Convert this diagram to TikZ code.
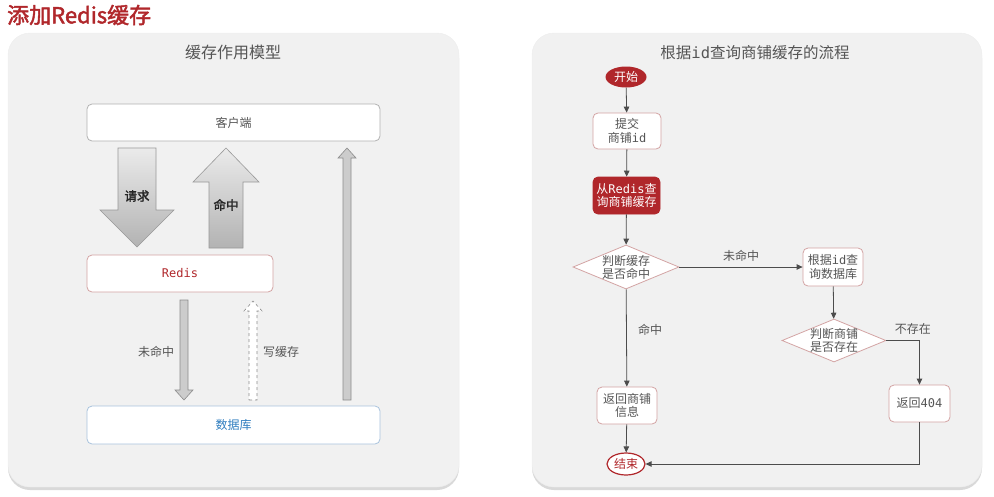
\documentclass[tikz,border=0pt]{standalone}
\usepackage{fontspec}
\setmainfont{Noto Sans CJK SC}
\setmonofont{DejaVu Sans Mono}
\newfontfamily\boldcjk{Noto Sans CJK SC}[FakeBold=2]
\usetikzlibrary{shapes.geometric,shadows,arrows.meta}

\definecolor{darkred}{HTML}{B0272B}
\definecolor{redline}{HTML}{D3A4A4}
\definecolor{blueline}{HTML}{A9C3DD}
\definecolor{bluetext}{HTML}{2F7DBF}
\definecolor{txtgray}{HTML}{555555}
\definecolor{panelgray}{HTML}{F1F1F1}

\tikzset{
  panel/.style={draw=black!7,fill=panelgray,rounded corners=22pt,
    drop shadow={shadow xshift=0pt,shadow yshift=-3pt,opacity=.3}},
  boxnode/.style={draw,line width=.8pt,fill=white,rounded corners=5pt,inner sep=0pt,
    text=txtgray,align=center,font=\fontsize{12}{13.5}\selectfont},
  bigarrow/.style={draw=black!40,line width=.6pt,top color=black!8,bottom color=black!30},
  thinarrow/.style={draw=black!45,line width=.6pt,fill=black!20},
  decision/.style={diamond,draw=redline,fill=white,line width=.8pt,inner sep=-4pt,aspect=2.4,
    text=txtgray,align=center,font=\fontsize{12}{13}\selectfont},
  terminal/.style={ellipse,inner sep=0pt,font=\fontsize{12}{13.5}\selectfont},
  flow/.style={draw=black!70,line width=.8pt,-{Triangle[length=6pt,width=5.5pt]}},
  lbl/.style={text=txtgray,font=\fontsize{12}{13.5}\selectfont}
}

\begin{document}
\begin{tikzpicture}[x=1pt,y=-1pt]
  \useasboundingbox (0,0) rectangle (994,496);

  % titles
  \node[anchor=west,inner sep=0pt,text=darkred,font=\fontsize{22}{24}\boldcjk] (maintitle) at (7,15) {添加Redis缓存};

  % left panel: cache model
  \path[panel] (8,33) rectangle (459,487);
  \node[text=txtgray,font=\fontsize{16}{18}\selectfont] (lefttitle) at (233,52) {缓存作用模型};

  \node[boxnode,draw=black!30,minimum width=293pt,minimum height=37pt] (client) at (233.5,122.5) {客户端};
  \node[boxnode,draw=redline,text=darkred,minimum width=186pt,minimum height=37pt] (redis) at (180,273.5) {\texttt{Redis}};
  \node[boxnode,draw=blueline,text=bluetext,minimum width=293pt,minimum height=38pt] (db) at (233.5,425) {数据库};

  \draw[bigarrow] (118,148) -- (156,148) -- (156,210) -- (174,210) -- (137,247) -- (100,210) -- (118,210) -- cycle;
  \node[text=black!85,font=\fontsize{12.5}{14}\boldcjk] (req) at (137,196) {请求};
  \draw[bigarrow] (209,248) -- (243,248) -- (243,182) -- (259,182) -- (226,148) -- (193,182) -- (209,182) -- cycle;
  \node[text=black!85,font=\fontsize{12.5}{14}\boldcjk] (hitlbl) at (226,205) {命中};

  \draw[thinarrow] (180,300) -- (188,300) -- (188,390) -- (193,390) -- (184,400) -- (175,390) -- (180,390) -- cycle;
  \node[lbl] (misslbl) at (156,352) {未命中};
  \draw[draw=black!45,line width=.6pt,dashed,fill=white] (249,400) -- (257,400) -- (257,311) -- (262,311) -- (253,301) -- (244,311) -- (249,311) -- cycle;
  \node[lbl] (writelbl) at (281,352) {写缓存};
  \draw[thinarrow] (343,400) -- (351,400) -- (351,158) -- (356,158) -- (347,148) -- (338,158) -- (343,158) -- cycle;

  % right panel: query flow
  \path[panel] (532,33) rectangle (982,487);
  \node[text=txtgray,font=\fontsize{15.5}{18}\selectfont] (righttitle) at (755,53) {根据\texttt{id}查询商铺缓存的流程};

  \node[terminal,fill=darkred,text=white,minimum width=41pt,minimum height=21pt] (start) at (626,77) {开始};
  \node[boxnode,draw=redline,minimum width=68pt,minimum height=36pt] (submit) at (627,131) {提交\\商铺\texttt{id}};
  \node[boxnode,draw=darkred,fill=darkred,text=white,minimum width=67pt,minimum height=37pt] (query) at (626.5,195.5) {从\texttt{Redis}查\\询商铺缓存};
  \node[decision,minimum width=106pt,minimum height=44pt] (hit) at (626,267) {判断缓存\\是否命中};
  \node[boxnode,draw=redline,minimum width=60pt,minimum height=38pt] (dbquery) at (833,267) {根据\texttt{id}查\\询数据库};
  \node[decision,minimum width=104pt,minimum height=43pt] (exist) at (834,340.5) {判断商铺\\是否存在};
  \node[boxnode,draw=redline,minimum width=60pt,minimum height=37pt] (shopinfo) at (627,405.5) {返回商铺\\信息};
  \node[boxnode,draw=redline,minimum width=61pt,minimum height=37pt] (notfound) at (919.5,403.5) {返回\texttt{404}};
  \node[terminal,draw=darkred,line width=1.2pt,fill=white,text=darkred,minimum width=38pt,minimum height=22pt] (stop) at (626,464) {结束};

  \draw[flow] (start) -- (submit);
  \draw[flow] (submit) -- (query);
  \draw[flow] (query) -- (hit);
  \draw[flow] (hit) -- node[lbl,above=2pt] {未命中} (dbquery);
  \draw[flow] (hit) -- node[lbl,pos=.42,right=8pt] {命中} (shopinfo);
  \draw[flow] (dbquery) -- (exist);
  \draw[flow] (exist.east) -| node[lbl,pos=.4,above=2pt] {不存在} (notfound);
  \draw[flow] (shopinfo) -- (stop);
  \draw[flow] (notfound) |- (stop);
\end{tikzpicture}
\end{document}
